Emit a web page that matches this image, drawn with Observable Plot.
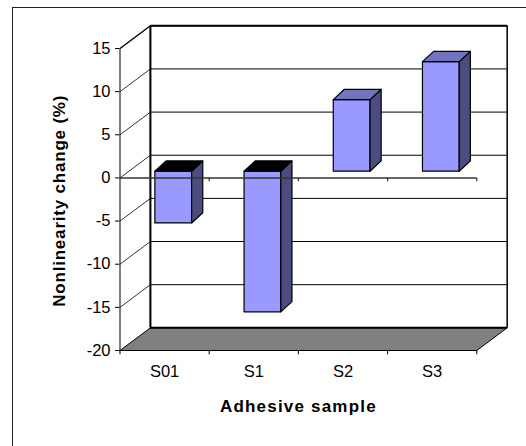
<!DOCTYPE html>
<html>
<head>
<meta charset="utf-8">
<script src="https://cdn.jsdelivr.net/npm/d3@7"></script>
<script src="https://cdn.jsdelivr.net/npm/@observablehq/plot@0.6"></script>
<style>
  html, body { margin: 0; padding: 0; background: #fff; overflow: hidden; }
  #wrap { position: relative; width: 526px; height: 446px; overflow: hidden; }
  #border { position: absolute; left: 12px; top: 7px; width: 700px; height: 700px;
            border-left: 1.6px solid #222; border-top: 1.6px solid #222; }
  #chart { position: absolute; left: 0; top: 0; }
</style>
</head>
<body>
<div id="wrap"><div id="border"></div><div id="chart"></div></div>
<script>
// ---- data ----
const categories = ["S01", "S1", "S2", "S3"];
const values = [-6.0, -16.3, 8.3, 12.7];
const yTicks = [-20, -15, -10, -5, 0, 5, 10, 15];
const xTitle = "Adhesive sample";
const yTitle = "Nonlinearity change (%)";

// ---- 3D geometry (in data units) ----
const DEPTH = {x: 0.341, y: 2.63};   // wall depth offset
const FACE = {x: 0.097, y: 0.78};    // bar front-face offset
const BARD = {x: 0.125, y: 1.19};    // bar depth
const HALF = 0.206;                  // bar half width
const yMin = yTicks[0], yMax = yTicks[yTicks.length - 1];
const n = categories.length;

const fronts = [], sides = [], topsPos = [], topsNeg = [];
values.forEach((v, i) => {
  const x0 = i + 0.5 - HALF + FACE.x, x1 = x0 + 2 * HALF;
  const y0 = FACE.y, y1 = v + FACE.y;
  const push = (arr, pts) => pts.forEach(([x, y]) => arr.push({id: i, x, y}));
  push(fronts, [[x0, y0], [x1, y0], [x1, y1], [x0, y1], [x0, y0]]);
  push(sides, [[x1, y0], [x1 + BARD.x, y0 + BARD.y], [x1 + BARD.x, y1 + BARD.y], [x1, y1], [x1, y0]]);
  const yt = Math.max(y0, y1);
  push(v >= 0 ? topsPos : topsNeg,
       [[x0, yt], [x1, yt], [x1 + BARD.x, yt + BARD.y], [x0 + BARD.x, yt + BARD.y], [x0, yt]]);
});

const floor = [[0, yMin], [n, yMin], [n + DEPTH.x, yMin + DEPTH.y], [DEPTH.x, yMin + DEPTH.y], [0, yMin]]
  .map(([x, y]) => ({x, y}));
const backWall = [[DEPTH.x, yMin + DEPTH.y], [n + DEPTH.x, yMin + DEPTH.y], [n + DEPTH.x, yMax + DEPTH.y], [DEPTH.x, yMax + DEPTH.y], [DEPTH.x, yMin + DEPTH.y]]
  .map(([x, y]) => ({x, y}));

const font = "'Liberation Sans', Arial, Helvetica, sans-serif";

const chart = Plot.plot({
  width: 526,
  height: 446,
  marginLeft: 119.5,
  marginRight: 19.3,
  marginTop: 25.3,
  marginBottom: 96,
  style: {fontFamily: font, fontSize: "16px", background: "transparent", color: "#000"},
  x: {type: "linear", domain: [0, n + DEPTH.x], axis: null},
  y: {type: "linear", domain: [yMin, yMax + DEPTH.y], axis: null},
  marks: [
    // back wall
    Plot.line(backWall, {x: "x", y: "y", fill: "#fff", stroke: "#000", strokeWidth: 1}),
    // back wall gridlines
    Plot.ruleY(yTicks.slice(1, -1), {y: t => t + DEPTH.y, x1: DEPTH.x, x2: n + DEPTH.x, stroke: "#000", strokeWidth: 1}),
    // left wall diagonals
    Plot.link(yTicks.slice(1, -1), {x1: 0, y1: t => t, x2: DEPTH.x, y2: t => t + DEPTH.y, stroke: "#000", strokeWidth: 0.8}),
    Plot.link([yMax], {x1: 0, y1: t => t, x2: DEPTH.x, y2: t => t + DEPTH.y, stroke: "#000", strokeWidth: 1.4}),
    // floor
    Plot.line(floor, {x: "x", y: "y", fill: "#808080", stroke: "#000", strokeWidth: 1}),
    Plot.ruleY([yMin + DEPTH.y], {x1: DEPTH.x, x2: n + DEPTH.x, stroke: "#000", strokeWidth: 2}),
    // wall edges
    Plot.ruleX([DEPTH.x], {y1: yMin + DEPTH.y, y2: yMax + DEPTH.y, stroke: "#000", strokeWidth: 2}),
    Plot.ruleX([n + DEPTH.x], {y1: yMin + DEPTH.y, y2: yMax + DEPTH.y, stroke: "#000", strokeWidth: 1.2}),
    Plot.ruleY([yMax + DEPTH.y], {x1: DEPTH.x, x2: n + DEPTH.x, stroke: "#000", strokeWidth: 2}),
    // front y axis line
    Plot.ruleX([0], {y1: yMin, y2: yMax, stroke: "#000", strokeWidth: 1}),
    Plot.axisY(yTicks, {anchor: "left", tickSize: 4.5, tickPadding: 5, fontSize: 16.5,
                        stroke: "#000", fill: "#000", tickFormat: d => String(d), label: null}),
    // bars
    Plot.line(fronts, {x: "x", y: "y", z: "id", fill: "#9999FF", stroke: "#000", strokeWidth: 1.2}),
    Plot.line(sides, {x: "x", y: "y", z: "id", fill: "#4C4C80", stroke: "#000", strokeWidth: 1.2}),
    Plot.line(topsPos, {x: "x", y: "y", z: "id", fill: "#7373C0", stroke: "#000", strokeWidth: 1.2}),
    Plot.line(topsNeg, {x: "x", y: "y", z: "id", fill: "#000", stroke: "#000", strokeWidth: 1.2}),
    // zero axis line with ticks (drawn on top)
    Plot.ruleY([0], {x1: 0, x2: n, stroke: "#333", strokeWidth: 1.5}),
    Plot.ruleX(d3.range(1, n + 1), {y1: 0, y2: -0.45, stroke: "#333", strokeWidth: 1.2}),
    // bottom ticks
    Plot.ruleX(d3.range(0, n + 1), {y1: yMin, y2: yMin - 0.5, stroke: "#000", strokeWidth: 1}),
    // category labels
    Plot.text(categories, {x: (d, i) => i + 0.5, y: yMin, dy: 21, text: d => d, fontSize: 16.5, fill: "#000"}),
    // axis titles
    Plot.text([xTitle], {x: n / 2, y: yMin, dy: 56, text: d => d, fontSize: 17, fontWeight: "bold", fill: "#000"}),
    Plot.text([yTitle], {frameAnchor: "left", textAnchor: "middle", y: -2.65, dx: -60, rotate: -90, text: d => d,
                         fontSize: 17, fontWeight: "bold", fill: "#000"})
  ]
});

document.getElementById("chart").appendChild(chart);
d3.select(chart).selectAll("text").each(function () {
  const t = this.textContent;
  if (t === xTitle) this.setAttribute("letter-spacing", "1.2");
  if (t === yTitle) this.setAttribute("letter-spacing", "0.8");
});
</script>
</body>
</html>
